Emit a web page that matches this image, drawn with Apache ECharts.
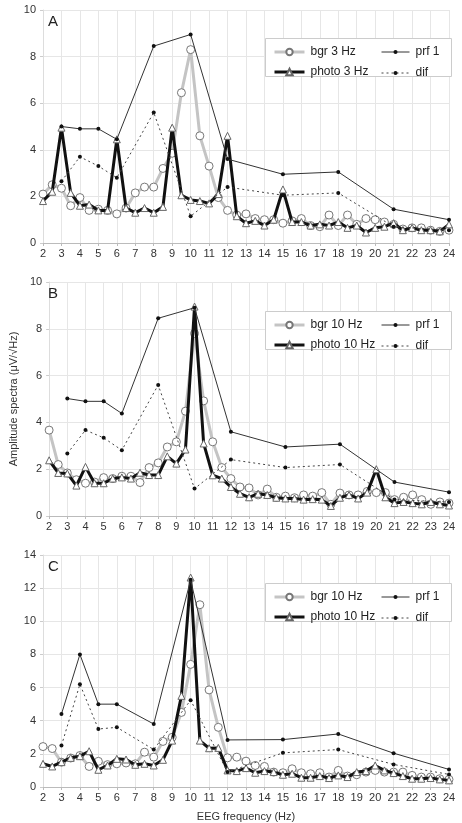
<!DOCTYPE html>
<html>
<head>
<meta charset="utf-8">
<script src="https://cdn.jsdelivr.net/npm/echarts@6/dist/echarts.min.js"></script>
<style>
  html, body { margin: 0; padding: 0; background: #fff; }
  #main { width: 462px; height: 823px; }
</style>
</head>
<body>
<div id="main"></div>
<script>
// frequency bins (Hz), 0.5 Hz steps
const freq = [2, 2.5, 3, 3.5, 4, 4.5, 5, 5.5, 6, 6.5, 7, 7.5, 8, 8.5, 9, 9.5, 10, 10.5, 11, 11.5,
  12, 12.5, 13, 13.5, 14, 14.5, 15, 15.5, 16, 16.5, 17, 17.5, 18, 18.5, 19, 19.5, 20, 20.5, 21, 21.5,
  22, 22.5, 23, 23.5, 24];
// frequencies where prf 1 / dif are given
const prfFreq = [3, 4, 5, 6, 8, 10, 12, 15, 18, 21, 24];

// panel A - 3 Hz
const aBgr = [2.1, 2.5, 2.35, 1.6, 1.95, 1.4, 1.45, 1.4, 1.25, 1.5, 2.15, 2.4, 2.4, 3.2, 3.85, 6.45, 8.3, 4.6, 3.3, 1.95,
  1.4, 1.2, 1.25, 1.05, 1.0, 1.0, 0.85, 0.95, 1.05, 0.75, 0.7, 1.2, 0.75, 1.2, 0.8, 1.05, 1.0, 0.9, 0.8, 0.6,
  0.65, 0.65, 0.55, 0.5, 0.55];
const aPhoto = [1.8, 2.2, 4.95, 2.15, 1.6, 1.65, 1.4, 1.4, 4.45, 1.5, 1.3, 1.5, 1.3, 1.55, 4.95, 2.05, 1.85, 1.8, 1.7, 2.1,
  4.6, 1.15, 0.85, 0.95, 0.75, 1.0, 2.3, 0.9, 0.9, 0.75, 0.8, 0.75, 0.9, 0.65, 0.75, 0.45, 0.65, 0.7, 0.85, 0.55,
  0.65, 0.55, 0.55, 0.5, 0.8];
const aPrf = [5.0, 4.9, 4.9, 4.45, 8.45, 8.95, 3.6, 2.95, 3.05, 1.45, 1.0];
const aDif = [2.65, 3.7, 3.3, 2.8, 5.6, 1.15, 2.4, 2.05, 2.15, 0.7, 0.55];

// panel B - 10 Hz
const bBgr = [3.67, 2.2, 1.84, 1.55, 1.4, 1.45, 1.64, 1.6, 1.7, 1.7, 1.43, 2.07, 2.27, 2.95, 3.17, 4.48, 7.8, 4.92, 3.17, 2.07,
  1.6, 1.24, 1.2, 0.9, 1.15, 0.8, 0.85, 0.78, 0.9, 0.85, 1.0, 0.5, 0.98, 0.9, 0.9, 1.05, 1.0, 1.0, 0.7, 0.8,
  0.9, 0.7, 0.5, 0.6, 0.55];
const bPhoto = [2.38, 1.84, 1.82, 1.3, 2.1, 1.4, 1.4, 1.6, 1.65, 1.6, 1.85, 1.75, 1.75, 2.55, 2.24, 2.84, 8.95, 3.1, 1.74, 1.6,
  1.24, 0.95, 0.8, 0.95, 0.9, 0.78, 0.75, 0.75, 0.7, 0.72, 0.7, 0.43, 0.78, 0.9, 0.75, 1.0, 2.0, 0.8, 0.55, 0.6,
  0.55, 0.5, 0.6, 0.5, 0.45];
const bPrf = [5.02, 4.9, 4.9, 4.38, 8.45, 8.9, 3.6, 2.95, 3.07, 1.45, 1.02];
const bDif = [2.67, 3.67, 3.34, 2.81, 5.6, 1.17, 2.41, 2.07, 2.2, 0.7, 0.6];

// panel C - 10 Hz
const cBgr = [2.44, 2.32, 1.5, 1.75, 1.9, 1.24, 1.55, 1.35, 1.4, 1.45, 1.4, 2.1, 1.8, 2.75, 3.0, 4.5, 7.4, 11.0, 5.86, 3.6,
  1.76, 1.8, 1.56, 1.3, 1.24, 0.9, 0.86, 1.1, 0.86, 0.8, 0.86, 0.6, 1.0, 0.66, 0.74, 0.9, 1.0, 0.9, 0.9, 0.9,
  0.7, 0.6, 0.6, 0.5, 0.46];
const cPhoto = [1.4, 1.24, 1.5, 1.76, 1.86, 2.16, 1.04, 1.3, 1.7, 1.66, 1.34, 1.4, 1.3, 1.64, 2.8, 5.5, 12.64, 2.8, 2.34, 2.36,
  1.0, 0.96, 1.14, 0.86, 0.96, 0.9, 0.74, 0.8, 0.56, 0.56, 0.66, 0.54, 0.7, 0.6, 0.9, 0.96, 1.3, 1.0, 0.84, 0.66,
  0.5, 0.5, 0.54, 0.46, 0.4];
const cPrf = [4.4, 8.0, 5.0, 5.0, 3.8, 12.5, 2.84, 2.86, 3.2, 2.04, 1.06];
const cDif = [2.5, 6.2, 3.5, 3.6, 2.26, 5.24, 0.9, 2.06, 2.26, 1.36, 0.76];

const yMax = [10, 10, 14];
const letters = ['A', 'B', 'C'];
const bgrNames = ['bgr 3 Hz', 'bgr 10 Hz', 'bgr 10 Hz'];
const photoNames = ['photo 3 Hz', 'photo 10 Hz', 'photo 10 Hz'];

let chart = echarts.init(document.getElementById('main'));

const FONT = 'Liberation Sans';
const pairs = (xs, ys) => xs.map((x, i) => [x, ys[i]]);

// plot areas (top / bottom of each panel in px)
const panels = [
  { top: 10, bottom: 243 },
  { top: 282, bottom: 516 },
  { top: 555, bottom: 788 }
];
const panelData = [
  [aBgr, aPhoto, aPrf, aDif],
  [bBgr, bPhoto, bPrf, bDif],
  [cBgr, cPhoto, cPrf, cDif]
];

let grid = [], xAxis = [], yAxis = [], series = [], legend = [], graphic = [];

panels.forEach((p, k) => {
  grid.push({ left: 43, width: 406, top: p.top, height: p.bottom - p.top });
  xAxis.push({
    gridIndex: k, type: 'value', min: 2, max: 24, interval: 1,
    axisLine: { lineStyle: { color: '#bbb' } },
    axisTick: { show: true, length: 3, lineStyle: { color: '#bbb' } },
    axisLabel: { color: '#333', fontSize: 11, fontFamily: FONT, margin: 5 },
    splitLine: { show: true, lineStyle: { color: '#e6e6e6', width: 1 } },
    name: k === 2 ? 'EEG frequency (Hz)' : '',
    nameLocation: 'middle', nameGap: 24,
    nameTextStyle: { color: '#333', fontSize: 11, fontFamily: FONT }
  });
  yAxis.push({
    gridIndex: k, type: 'value', min: 0, max: yMax[k], interval: 2,
    axisLine: { show: true, lineStyle: { color: '#ddd' } },
    axisTick: { show: true, length: 3, lineStyle: { color: '#ccc' } },
    axisLabel: { color: '#333', fontSize: 11, fontFamily: FONT, margin: 7 },
    splitLine: { show: true, lineStyle: { color: '#e6e6e6', width: 1 } },
    name: k === 1 ? 'Amplitude spectra (μV/√Hz)' : '',
    nameLocation: 'middle', nameGap: 28,
    nameTextStyle: { color: '#333', fontSize: 11, fontFamily: FONT }
  });

  const d = panelData[k];
  series.push({
    name: bgrNames[k], type: 'line', xAxisIndex: k, yAxisIndex: k,
    data: pairs(freq, d[0]),
    symbol: 'circle', symbolSize: 8,
    lineStyle: { color: '#c4c4c4', width: 3 },
    itemStyle: { color: '#fff', borderColor: '#777', borderWidth: 1 },
    z: 2
  });
  series.push({
    name: photoNames[k], type: 'line', xAxisIndex: k, yAxisIndex: k,
    data: pairs(freq, d[1]),
    symbol: 'triangle', symbolSize: 7,
    lineStyle: { color: '#111', width: 3 },
    itemStyle: { color: '#fff', borderColor: '#666', borderWidth: 1 },
    z: 3
  });
  series.push({
    name: 'prf 1', type: 'line', xAxisIndex: k, yAxisIndex: k,
    data: pairs(prfFreq, d[2]),
    symbol: 'circle', symbolSize: 4,
    lineStyle: { color: '#333', width: 1 },
    itemStyle: { color: '#111' },
    z: 4
  });
  series.push({
    name: 'dif', type: 'line', xAxisIndex: k, yAxisIndex: k,
    data: pairs(prfFreq, d[3]),
    symbol: 'circle', symbolSize: 4,
    lineStyle: { color: '#444', width: 1, type: [2, 3] },
    itemStyle: { color: '#111' },
    z: 4
  });

  // legend box: two columns
  const ly = p.top + (k === 1 ? 30 : 29);
  graphic.push({
    type: 'rect', left: 265, top: ly - 1, z: 10,
    shape: { width: 186, height: 38 },
    style: { fill: '#fff', stroke: '#ccc', lineWidth: 1 }
  });
  const legendCommon = {
    orient: 'vertical', itemWidth: 30, itemGap: 8, z: 20,
    textStyle: { color: '#222', fontSize: 12, fontFamily: FONT, padding: [0, 0, 0, 1] }
  };
  legend.push(Object.assign({}, legendCommon, {
    left: 268, top: ly + 2, itemHeight: 8,
    data: [
      { name: bgrNames[k], lineStyle: { width: 3, color: '#c4c4c4' } },
      { name: photoNames[k], lineStyle: { width: 3, color: '#111' } }
    ]
  }));
  legend.push(Object.assign({}, legendCommon, {
    left: 376, top: ly + 2, itemHeight: 5, itemWidth: 28, itemGap: 9,
    data: [
      { name: 'prf 1', lineStyle: { width: 1, color: '#333' } },
      { name: 'dif', lineStyle: { width: 1, color: '#444', type: [2, 3] } }
    ]
  }));

  graphic.push({
    type: 'text', left: 48, top: p.top + 4, z: 10,
    style: { text: letters[k], fill: '#222', font: '15px ' + FONT }
  });
});

let option = {
  animation: false,
  grid: grid,
  xAxis: xAxis,
  yAxis: yAxis,
  legend: legend,
  graphic: graphic,
  series: series
};

chart.setOption(option);
</script>
</body>
</html>
